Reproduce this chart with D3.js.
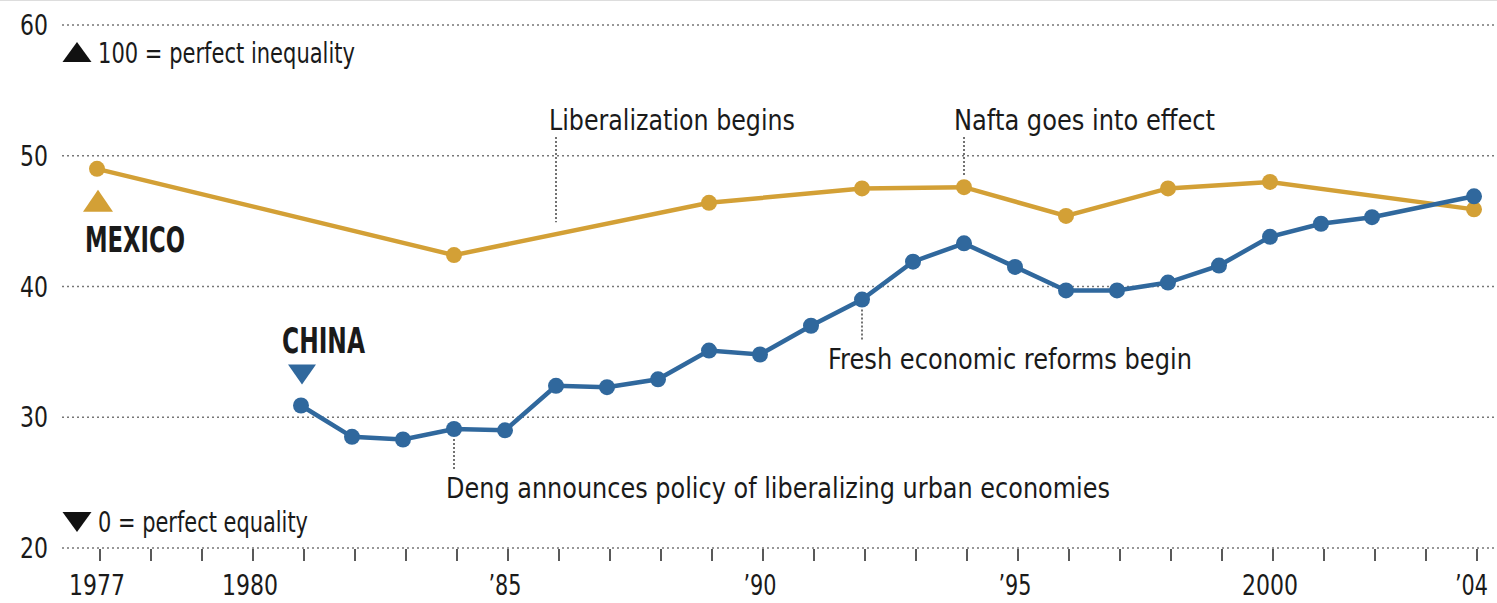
<!doctype html>
<html>
  <head>
    <meta charset="utf-8">
    <title>Inequality: Mexico and China</title>
    <script src="https://cdnjs.cloudflare.com/ajax/libs/d3/7.8.5/d3.min.js"></script>
    <style>
      body { margin: 0; background: #fff; }
      text { font-family: "DejaVu Sans", sans-serif; fill: #1a1a1a; }
    </style>
  </head>
  <body>
    <div id="chart"></div>
    <script>
      // data
      const mexicoYears = [1977, 1984, 1989, 1992, 1994, 1996, 1998, 2000, 2004]
      const mexicoValues = [49.0, 42.4, 46.4, 47.5, 47.6, 45.4, 47.5, 48.0, 45.9]
      const chinaYears = [1981, 1982, 1983, 1984, 1985, 1986, 1987, 1988, 1989, 1990, 1991, 1992,
                          1993, 1994, 1995, 1996, 1997, 1998, 1999, 2000, 2001, 2002, 2004]
      const chinaValues = [30.9, 28.5, 28.3, 29.1, 29.0, 32.4, 32.3, 32.9, 35.1, 34.8, 37.0, 39.0,
                           41.9, 43.3, 41.5, 39.7, 39.7, 40.3, 41.6, 43.8, 44.8, 45.3, 46.9]
      const yTicks = [20, 30, 40, 50, 60]
      const xTickYears = [1977, 1980, 1985, 1990, 1995, 2000, 2004]
      const xTickLabels = ['1977', '1980', '\u201985', '\u201990', '\u201995', '2000', '\u201904']
      const notes = [
        {year: 1986, text: 'Liberalization begins', series: 'mexico', dx: -7, len: 246},
        {year: 1994, text: 'Nafta goes into effect', series: 'mexico', dx: -10, len: 261},
        {year: 1992, text: 'Fresh economic reforms begin', series: 'china', dx: -34, len: 364},
        {year: 1984, text: 'Deng announces policy of liberalizing urban economies', series: 'china', dx: -8, len: 664}
      ]

      const W = 1497, H = 603
      const gold = '#d3a036', blue = '#30689d'

      const x = d3.scaleLinear().domain([1977, 2004]).range([97, 1474])
      const y = d3.scaleLinear().domain([20, 60]).range([548, 25])

      // narrow type: squeeze the glyphs to the width they have in the print
      const narrow = (sel, w) => sel.attr('textLength', w).attr('lengthAdjust', 'spacingAndGlyphs')

      const triangle = (cx, cy, w, h, up) => {
        const p = d3.path()
        const s = up ? 1 : -1
        p.moveTo(cx, cy - s * h / 2)
        p.lineTo(cx + w / 2, cy + s * h / 2)
        p.lineTo(cx - w / 2, cy + s * h / 2)
        p.closePath()
        return p.toString()
      }

      const svg = d3.select('#chart').append('svg')
        .attr('width', W).attr('height', H)

      svg.append('line')
        .attr('x1', 0).attr('x2', W).attr('y1', 0.5).attr('y2', 0.5)
        .attr('stroke', '#ddd')

      // gridlines
      svg.selectAll('.grid').data(yTicks).join('line')
        .attr('x1', 62).attr('x2', W)
        .attr('y1', d => y(d)).attr('y2', d => y(d))
        .attr('stroke', '#777').attr('stroke-width', 1.5)
        .attr('stroke-dasharray', '2,3')

      svg.selectAll('.ylab').data(yTicks).join('text')
        .attr('x', 48).attr('y', d => y(d) + 10)
        .attr('text-anchor', 'end')
        .style('font-size', '28px')
        .text(d => d)
        .call(narrow, 28)

      // year ticks
      svg.selectAll('.xtick').data(d3.range(1977, 2005)).join('line')
        .attr('x1', d => x(d) + 3).attr('x2', d => x(d) + 3)
        .attr('y1', 549).attr('y2', 561)
        .attr('stroke', '#222').attr('stroke-width', 1.5)

      const lastYear = xTickYears[xTickYears.length - 1]
      svg.selectAll('.xlab').data(xTickYears).join('text')
        .attr('x', d => d === lastYear ? x(d) + 14 : x(d)).attr('y', 595)
        .attr('text-anchor', d => d === lastYear ? 'end' : 'middle')
        .style('font-size', '28px')
        .text((d, i) => xTickLabels[i])
        .each(function(d, i) {
          d3.select(this).call(narrow, xTickLabels[i].length === 4 ? 56 : 33)
        })

      // annotation leaders
      const valueAt = (years, vals, yr) => {
        const i = years.indexOf(yr)
        if (i >= 0) return vals[i]
        const j = years.findIndex(v => v > yr)
        const t = (yr - years[j - 1]) / (years[j] - years[j - 1])
        return vals[j - 1] + t * (vals[j] - vals[j - 1])
      }
      notes.forEach(n => {
        const isMex = n.series === 'mexico'
        const v = isMex ? valueAt(mexicoYears, mexicoValues, n.year) : valueAt(chinaYears, chinaValues, n.year)
        const py = y(v)
        const y1 = isMex ? 137 : py + 10
        const y2 = isMex ? py - 12 : py + 40
        svg.append('line')
          .attr('x1', x(n.year)).attr('x2', x(n.year))
          .attr('y1', y1).attr('y2', y2)
          .attr('stroke', '#444').attr('stroke-width', 1.5)
          .attr('stroke-dasharray', '2,2')
        svg.append('text')
          .attr('x', x(n.year) + n.dx)
          .attr('y', isMex ? 130 : py + 69)
          .style('font-size', '28px')
          .text(n.text)
          .call(narrow, n.len)
      })

      const line = d3.line().x(d => x(d[0])).y(d => y(d[1]))
      const series = [
        {years: mexicoYears, values: mexicoValues, color: gold},
        {years: chinaYears, values: chinaValues, color: blue}
      ]
      series.forEach(s => {
        const pts = s.years.map((yr, i) => [yr, s.values[i]])
        svg.append('path').datum(pts)
          .attr('d', line)
          .attr('fill', 'none').attr('stroke', s.color).attr('stroke-width', 4.5)
        svg.selectAll(null).data(pts).join('circle')
          .attr('cx', d => x(d[0])).attr('cy', d => y(d[1]))
          .attr('r', 8).attr('fill', s.color)
      })

      // series labels with triangles
      svg.append('path')
        .attr('d', triangle(x(1977) + 1, y(49.0) + 32, 30, 22, true))
        .attr('fill', gold)
      svg.append('text').attr('x', 85).attr('y', 252)
        .style('font-size', '36px').style('font-weight', 'bold')
        .text('MEXICO')
        .call(narrow, 100)
      svg.append('path')
        .attr('d', triangle(x(1981) + 1, y(30.9) - 31, 28, 20, false))
        .attr('fill', blue)
      svg.append('text').attr('x', 282).attr('y', 353)
        .style('font-size', '35px').style('font-weight', 'bold')
        .text('CHINA')
        .call(narrow, 83)

      // scale notes
      svg.append('path').attr('d', triangle(77, 52, 29, 20, true)).attr('fill', '#111')
      svg.append('text').attr('x', 98).attr('y', 63)
        .style('font-size', '28px').text('100 = perfect inequality')
        .call(narrow, 257)
      svg.append('path').attr('d', triangle(77, 522, 29, 20, false)).attr('fill', '#111')
      svg.append('text').attr('x', 98).attr('y', 532)
        .style('font-size', '28px').text('0 = perfect equality')
        .call(narrow, 210)
    </script>
  </body>
</html>
